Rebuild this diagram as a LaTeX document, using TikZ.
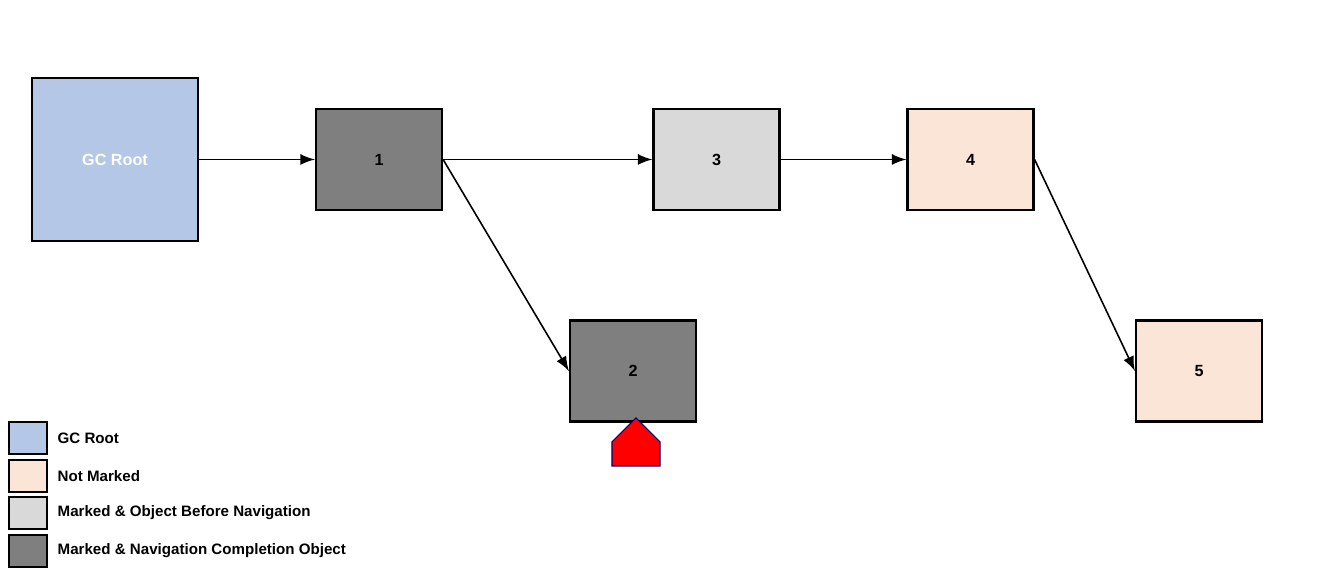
\documentclass[tikz,border=0pt]{standalone}
\usepackage{fontspec}
\setmainfont{Liberation Sans}
\usetikzlibrary{shapes.arrows}
\definecolor{rootblue}{RGB}{180,199,231}
\definecolor{notmarked}{RGB}{251,229,214}
\definecolor{before}{RGB}{217,217,217}
\definecolor{done}{RGB}{127,127,127}
\begin{document}
\begin{tikzpicture}[x=0.01cm,y=-0.01cm]
        \tikzstyle{obj} = [rectangle, draw, line width=0.6pt, minimum width=1.26cm, minimum height=1.01cm, align=center, font=\fontsize{4.6}{5.5}\selectfont\bfseries]
        \tikzstyle{key} = [rectangle, draw, line width=0.3pt, minimum width=0.38cm, minimum height=0.32cm]
        \tikzstyle{keytext} = [anchor=west, inner sep=0pt, font=\fontsize{4.3}{5}\selectfont\bfseries]
        \tikzstyle{arrow} = [line width=0.45pt,-latex]
        \useasboundingbox (0,0) rectangle (1318,577);

        \node (root) [obj, fill=rootblue, minimum width=1.66cm, minimum height=1.63cm, text=white] at (115,159.5) {GC Root};
        \node (one) [obj, fill=done] at (379,159.5) {1};
        \node (three) [obj, fill=before] at (716.5,159.5) {3};
        \node (four) [obj, fill=notmarked] at (970.5,159.5) {4};
        \node (two) [obj, fill=done] at (633,371) {2};
        \node (five) [obj, fill=notmarked] at (1199,371) {5};

        \draw [arrow] (root) -- (one);
        \draw [arrow] (one) -- (three);
        \draw [arrow] (three) -- (four);
        \draw [arrow] (one.east) -- (two.west);
        \draw [arrow] (four.east) -- (five.west);

        \node (pointer) [single arrow, draw=blue!50!black, fill=red, line width=0.3pt, shape border rotate=90, minimum height=0.48cm, minimum width=0.48cm, single arrow head extend=0pt, inner sep=0pt] at (636,454) {};

        % legend
        \node (k1) [key, fill=rootblue] at (28,438) {};
        \node (k2) [key, fill=notmarked] at (28,476) {};
        \node (k3) [key, fill=before] at (28,513) {};
        \node (k4) [key, fill=done] at (28,551) {};
        \node (t1) [keytext] at (57,438) {GC Root};
        \node (t2) [keytext] at (57,476) {Not Marked};
        \node (t3) [keytext] at (57,513) {Marked \& Object Before Navigation};
        \node (t4) [keytext] at (57,551) {Marked \& Navigation Completion Object};
\end{tikzpicture}
\end{document}
